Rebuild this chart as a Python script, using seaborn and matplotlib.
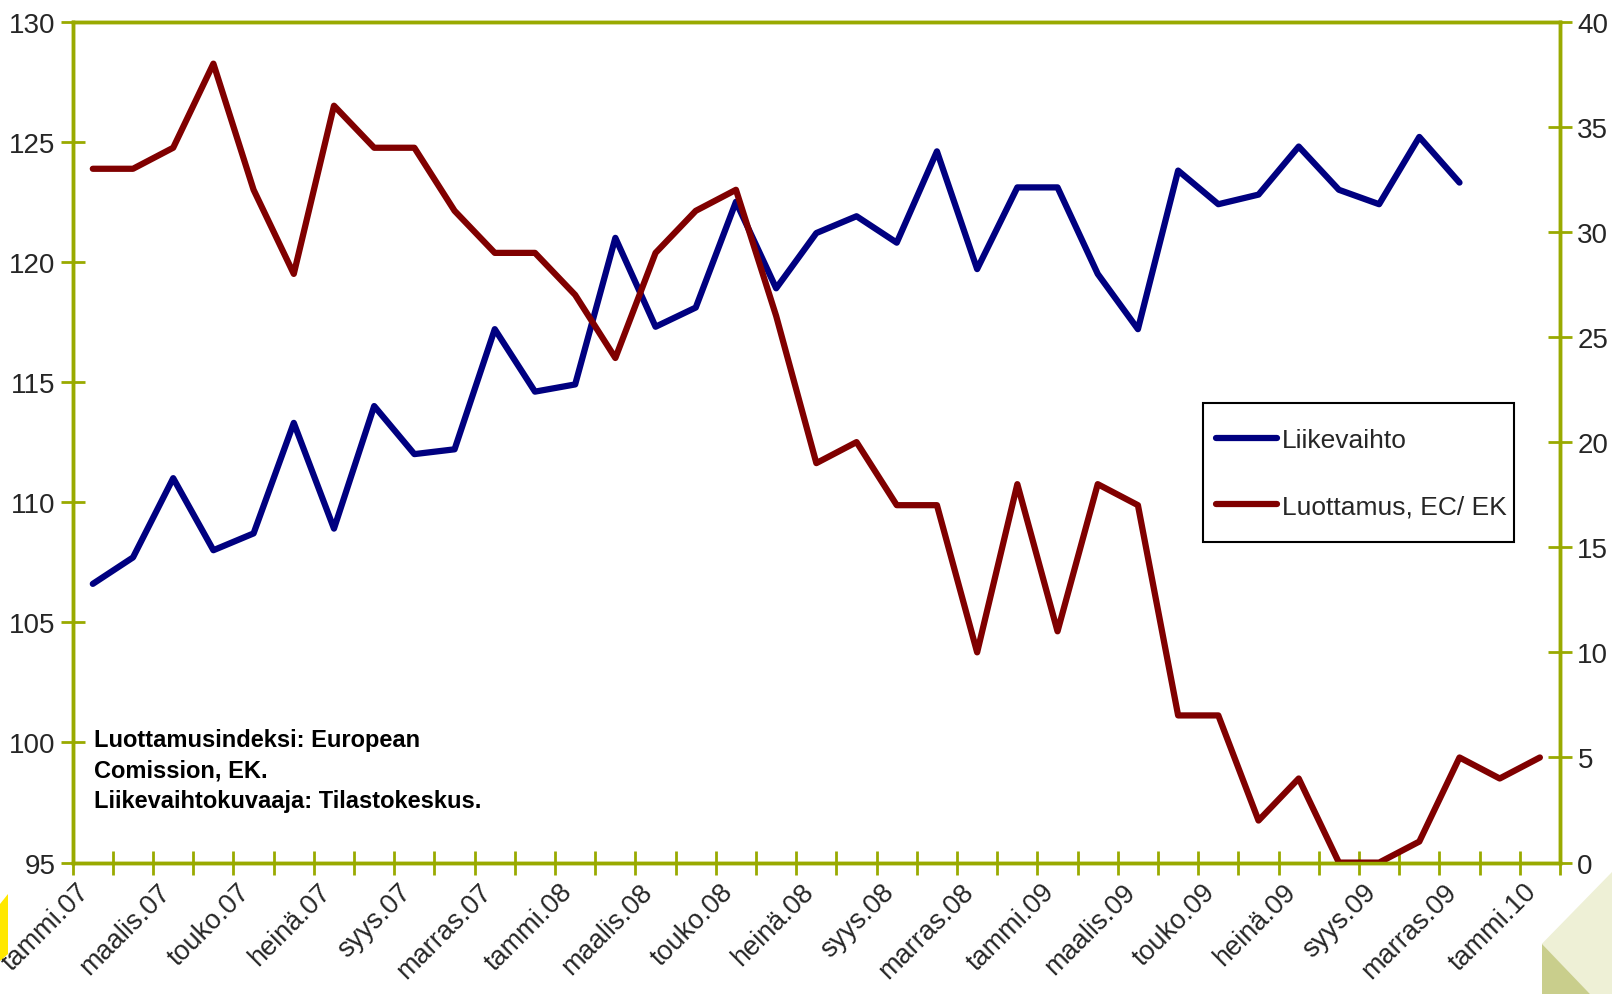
import numpy as np
import pandas as pd
import matplotlib
matplotlib.use("Agg")
import matplotlib.pyplot as plt
from matplotlib.patches import Polygon, Rectangle
from matplotlib.transforms import ScaledTranslation
import seaborn as sns

# ---- data ----
months = ["tammi", "helmi", "maalis", "huhti", "touko", "kesä",
          "heinä", "elo", "syys", "loka", "marras", "joulu"]
years = ["07", "08", "09", "10"]
categories = [f"{m}.{y}" for y in years for m in months][:37]  # tammi.07 .. tammi.10

liikevaihto = [106.6, 107.7, 111.0, 108.0, 108.7, 113.3, 108.9, 114.0, 112.0, 112.2,
               117.2, 114.6, 114.9, 121.0, 117.3, 118.1, 122.5, 118.9, 121.2, 121.9,
               120.8, 124.6, 119.7, 123.1, 123.1, 119.5, 117.2, 123.8, 122.4, 122.8,
               124.8, 123.0, 122.4, 125.2, 123.3]
luottamus = [33, 33, 34, 38, 32, 28, 36, 34, 34, 31, 29, 29, 27, 24, 29, 31, 32, 26, 19, 20,
             17, 17, 10, 18, 11, 18, 17, 7, 7, 2, 4, 0, 0, 1, 5, 4, 5]

left_ticks = [95, 100, 105, 110, 115, 120, 125, 130]
right_ticks = [0, 5, 10, 15, 20, 25, 30, 35, 40]
note_lines = ["Luottamusindeksi: European", "Comission, EK.", "Liikevaihtokuvaaja: Tilastokeskus."]

# ---- style ----
sns.set_theme(style="white")
plt.rcParams["font.family"] = ["Liberation Sans", "DejaVu Sans"]

AX_COL = "#99AA00"
BLUE = "#000080"
RED = "#800000"
FS = 20

fig = plt.figure(figsize=(16.12, 9.95), dpi=100)
fig.patch.set_facecolor("white")
ax = fig.add_axes([72.7 / 1612, 1 - 863.6 / 995, (1560 - 72.7) / 1612, (863.6 - 22.6) / 995])
ax2 = ax.twinx()

df1 = pd.DataFrame({"x": np.arange(len(liikevaihto)), "y": liikevaihto})
df2 = pd.DataFrame({"x": np.arange(len(luottamus)), "y": luottamus})

sns.lineplot(data=df1, x="x", y="y", ax=ax, color=BLUE, linewidth=4.5,
             solid_joinstyle="round", solid_capstyle="round", label="Liikevaihto", legend=False)
sns.lineplot(data=df2, x="x", y="y", ax=ax2, color=RED, linewidth=4.5,
             solid_joinstyle="round", solid_capstyle="round", label="Luottamus, EC/ EK", legend=False)

n = len(categories)
ax.set_xlim(-0.5, n - 0.5)
ax.set_ylim(95, 130)
ax2.set_ylim(0, 40)
ax.set_xlabel("")
ax.set_ylabel("")
ax2.set_ylabel("")

ax.set_yticks(left_ticks)
ax.set_yticklabels([str(t) for t in left_ticks])
ax2.set_yticks(right_ticks)
ax2.set_yticklabels([str(t) for t in right_ticks])

# category boundary tick marks, labels every other category
ax.set_xticks(np.arange(-0.5, n, 1.0))
ax.set_xticklabels([])
ax.set_xticks(np.arange(0, n, 2), minor=True)
ax.set_xticklabels([categories[i] for i in range(0, n, 2)], minor=True)
ax.tick_params(axis="x", which="major", direction="inout", length=17, width=2,
               color=AX_COL, bottom=True)
ax.tick_params(axis="x", which="minor", length=0, pad=16, labelsize=19.5, bottom=True)
shift = ScaledTranslation(-5 / 72, -2 / 72, fig.dpi_scale_trans)
for lab in ax.get_xticklabels(minor=True):
    lab.set_rotation(45)
    lab.set_ha("right")
    lab.set_va("center")
    lab.set_rotation_mode("anchor")
    lab.set_transform(lab.get_transform() + shift)

ax.tick_params(axis="y", direction="inout", length=17, width=2, color=AX_COL,
               labelsize=FS, pad=4, left=True)
ax2.tick_params(axis="y", direction="inout", length=17, width=2, color=AX_COL,
                labelsize=FS, pad=4, right=True)

for a in (ax, ax2):
    for s in a.spines.values():
        s.set_color(AX_COL)
        s.set_linewidth(2.5)
        s.set_visible(True)
    a.grid(False)
ax.set_facecolor("white")

# note text
for i, line in enumerate(note_lines):
    fig.text(94 / 1612, 1 - (741 + 30.5 * i) / 995, line, fontsize=17, fontweight="bold",
             ha="left", va="center", color="black")

# legend (entries) + separate square frame
frame = Rectangle((1203 / 1612, 1 - 543 / 995), (1514 - 1203) / 1612, (543 - 404) / 995,
                  transform=fig.transFigure, facecolor="white", edgecolor="black",
                  linewidth=1.5, zorder=8, clip_on=False)
ax2.add_artist(frame)
h1, l1 = ax.get_legend_handles_labels()
h2, l2 = ax2.get_legend_handles_labels()
leg = ax2.legend(h1 + h2, l1 + l2, loc="upper left",
                 bbox_to_anchor=(1216 / 1612, 1 - 429 / 995), bbox_transform=fig.transFigure,
                 fontsize=19, frameon=False, handlelength=2.3, handletextpad=0.2,
                 labelspacing=1.6, borderpad=0, borderaxespad=0)
leg.set_zorder(10)

# decorative corner shapes
fig.patches.append(Polygon([[0, 1 - 905 / 995], [8 / 1612, 1 - 895 / 995], [8 / 1612, 1 - 955 / 995], [0, 1 - 962 / 995]],
                           closed=True, transform=fig.transFigure, facecolor="#FFE800", edgecolor="none"))
fig.patches.append(Polygon([[1, 1 - 873 / 995], [1541.7 / 1612, 1 - 945 / 995], [1590 / 1612, 0], [1, 0]],
                           closed=True, transform=fig.transFigure, facecolor="#EEF0D6", edgecolor="none"))
fig.patches.append(Polygon([[1541.7 / 1612, 1 - 945 / 995], [1541.7 / 1612, 0], [1590 / 1612, 0]],
                           closed=True, transform=fig.transFigure, facecolor="#C9CE8C", edgecolor="none"))

fig.savefig("out.png", dpi=100, facecolor="white")
